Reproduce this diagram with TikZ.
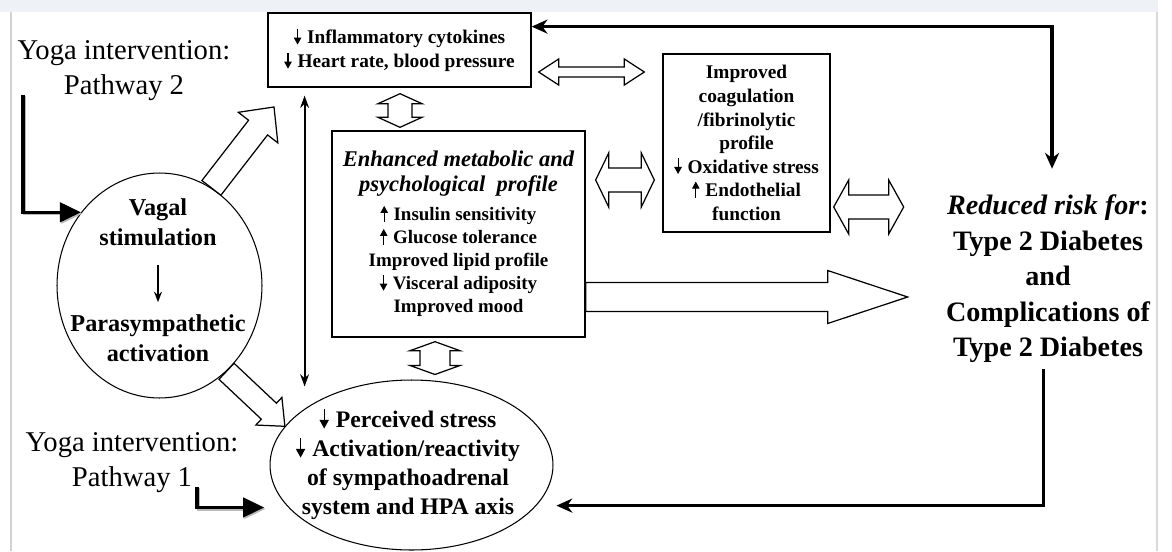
\documentclass[tikz,border=0pt]{standalone}
\usepackage{fontspec}
\setmainfont{Liberation Serif}
\usetikzlibrary{arrows.meta,calc,shapes.geometric}
\definecolor{bandgray}{RGB}{238,241,246}
\newcommand{\dnarr}{\tikz[baseline=0pt]\draw[line width=0.6pt,-{Triangle[length=0.8ex,width=0.85ex]}] (0pt,1.7ex) -- (0pt,-0.1ex);\hspace{0.3em}}
\newcommand{\uparr}{\tikz[baseline=0pt]\draw[line width=0.6pt,-{Triangle[length=0.8ex,width=0.85ex]}] (0pt,-0.1ex) -- (0pt,1.7ex);\hspace{0.3em}}
\newcommand{\fatarrow}[5]{%
  \draw[fatline] let \p1=(#1), \p2=(#2),
    \n1={atan2(\y2-\y1,\x2-\x1)}, \n2={veclen(\x2-\x1,\y2-\y1)},
    \n3={#3*0.569}, \n4={#4*0.569}, \n5={\n2-#5*0.569} in
    ($(\p1)+(\n1+90:{\n3*1pt})$)
    -- ($(\p1)+(\n1:{\n5*1pt})+(\n1+90:{\n3*1pt})$)
    -- ($(\p1)+(\n1:{\n5*1pt})+(\n1+90:{\n4*1pt})$)
    -- (\p2)
    -- ($(\p1)+(\n1:{\n5*1pt})+(\n1-90:{\n4*1pt})$)
    -- ($(\p1)+(\n1:{\n5*1pt})+(\n1-90:{\n3*1pt})$)
    -- ($(\p1)+(\n1-90:{\n3*1pt})$) -- cycle;}
\newcommand{\fatdblarrow}[5]{%
  \draw[fatline] let \p1=(#1), \p2=(#2),
    \n1={atan2(\y2-\y1,\x2-\x1)}, \n2={veclen(\x2-\x1,\y2-\y1)},
    \n3={#3*0.569}, \n4={#4*0.569}, \n5={#5*0.569}, \n6={\n2-#5*0.569} in
    (\p1) -- ($(\p1)+(\n1:{\n5*1pt})+(\n1+90:{\n4*1pt})$)
    -- ($(\p1)+(\n1:{\n5*1pt})+(\n1+90:{\n3*1pt})$)
    -- ($(\p1)+(\n1:{\n6*1pt})+(\n1+90:{\n3*1pt})$)
    -- ($(\p1)+(\n1:{\n6*1pt})+(\n1+90:{\n4*1pt})$)
    -- (\p2)
    -- ($(\p1)+(\n1:{\n6*1pt})+(\n1-90:{\n4*1pt})$)
    -- ($(\p1)+(\n1:{\n6*1pt})+(\n1-90:{\n3*1pt})$)
    -- ($(\p1)+(\n1:{\n5*1pt})+(\n1-90:{\n3*1pt})$)
    -- ($(\p1)+(\n1:{\n5*1pt})+(\n1-90:{\n4*1pt})$) -- cycle;}
\begin{document}
\begin{tikzpicture}[x=0.02cm, y=-0.02cm, line join=miter,
  box/.style={draw, line width=0.8pt, inner sep=0pt, align=center},
  oval/.style={draw, ellipse, line width=0.6pt, inner sep=0pt},
  label/.style={inner sep=0pt, align=center},
  fatline/.style={draw, fill=white, line width=0.7pt},
  fbtip/.tip={Stealth[length=9pt,width=8pt]},
  thintip/.tip={Stealth[length=7pt,width=5pt]},
  pathway/.style={line width=2pt, -{Triangle[length=12pt,width=11pt]}},
  pathshade/.style={pathway, gray!55, transform canvas={shift={(0.8pt,-0.8pt)}}}]
\useasboundingbox (0,0) rectangle (1172,551);
\fill[bandgray] (0,0) rectangle (1158,12);
\draw[gray!35, line width=1.6pt] (11,12) -- (11,551);
\draw[gray!30, line width=1.1pt] (1157,12) -- (1157,551);

\node[box, minimum width=5.26cm, minimum height=1.48cm, font=\fontsize{11}{13.7}\selectfont\bfseries] (cyto) at (399.5,50)
  {\dnarr Inflammatory cytokines\\\dnarr Heart rate, blood pressure};
\node[box, minimum width=5.06cm, minimum height=4.12cm, font=\fontsize{10.8}{13.1}\selectfont\bfseries] (meta) at (458.5,234)
  {{\fontsize{12.8}{15}\selectfont\itshape Enhanced metabolic and}\\[1.1pt]
   {\fontsize{12.8}{15}\selectfont\itshape psychological\ \ profile}\\[3.4pt]
   \uparr Insulin sensitivity\\\uparr Glucose tolerance\\Improved lipid profile\\\dnarr Visceral adiposity\\Improved mood};
\node[box, minimum width=3.34cm, minimum height=3.56cm, font=\fontsize{11}{13.4}\selectfont\bfseries] (coag) at (746.5,143)
  {Improved\\coagulation\\/fibrinolytic\\profile\\\dnarr Oxidative stress\\\uparr Endothelial\\function};
\node[oval, minimum width=4.1cm, minimum height=4.5cm] (vagal) at (159.5,285.5) {};
\node[label, font=\fontsize{13.8}{17}\selectfont\bfseries] (vagaltop) at (158,222) {Vagal\\stimulation};
\node[label, font=\fontsize{13.8}{17}\selectfont\bfseries] (vagalbot) at (158,338) {Parasympathetic\\activation};
\node[oval, minimum width=5.66cm, minimum height=3.4cm] (stress) at (411.5,465) {};
\node[label, font=\fontsize{13.5}{16.5}\selectfont\bfseries] (stresstxt) at (408,464)
  {\dnarr Perceived stress\\\dnarr Activation/reactivity\\of sympathoadrenal\\system and HPA axis};
\node[label, font=\fontsize{16}{20.2}\selectfont\bfseries] (risk) at (1048,279)
  {\textit{Reduced risk for}:\\Type 2 Diabetes\\and\\Complications of\\Type 2 Diabetes};
\node[label, font=\fontsize{16.3}{20}\selectfont] (yoga2) at (124,71) {Yoga intervention:\\Pathway 2};
\node[label, font=\fontsize{16.3}{20}\selectfont] (yoga1) at (132,463) {Yoga intervention:\\Pathway 1};

\coordinate (p2start) at (23,95);
\coordinate (p1start) at (197,487);
\coordinate (uptip) at (274,107);
\coordinate (vt) at ($(cyto.south west)!0.141!(cyto.south east)$);

\draw[pathshade] (p2start) |- (vagal.137);
\draw[pathway] (p2start) |- (vagal.137);
\draw[pathshade, shorten >=13.7pt] (p1start) |- (stress.199);
\draw[pathway, shorten >=13.7pt] (p1start) |- (stress.199);
\draw[line width=1.1pt, thintip-thintip, shorten <=4.5pt, shorten >=-4pt] (vt) -- (vt |- stress.north);
\draw[line width=1.8pt, fbtip-fbtip, shorten >=14.8pt] ($(cyto.north east)!0.19!(cyto.south east)$) -| ([xshift=2.3pt]risk.north);
\draw[line width=1.8pt, -fbtip, shorten <=3.4pt, shorten >=11.4pt] ([xshift=-2.8pt]risk.south) |- (stress.-18);
\draw[line width=1pt, -{Stealth[length=6pt,width=4.5pt]}, shorten <=10.8pt, shorten >=6.8pt] (vagaltop.south) -- (vagalbot.north);

\fatarrow{vagal.62}{uptip}{12}{25}{26}
\fatarrow{vagal.-52}{stress.163}{11}{19}{22}
\fatarrow{$(meta.east)+(0,63)$}{$(meta.east)+(322,63)$}{14.5}{26.5}{80}
\fatdblarrow{$(cyto.south)+(0.5,6)$}{$(cyto.south |- meta.north)+(0.5,-3)$}{12}{22}{10}
\fatdblarrow{$(meta.south)+(-23.5,4)$}{$(stress.north)+(23.5,-5)$}{15}{25}{9}
\fatdblarrow{$(cyto.east)+(7,22)$}{$(coag.west)+(-18,-71)$}{5}{13}{20}
\fatdblarrow{$(meta.east)+(10,-54)$}{$(coag.west)+(-8,37)$}{12}{27}{13}
\fatdblarrow{$(coag.east)+(3,64)$}{$(coag.east)+(73,64)$}{12}{27}{15}
\end{tikzpicture}
\end{document}
